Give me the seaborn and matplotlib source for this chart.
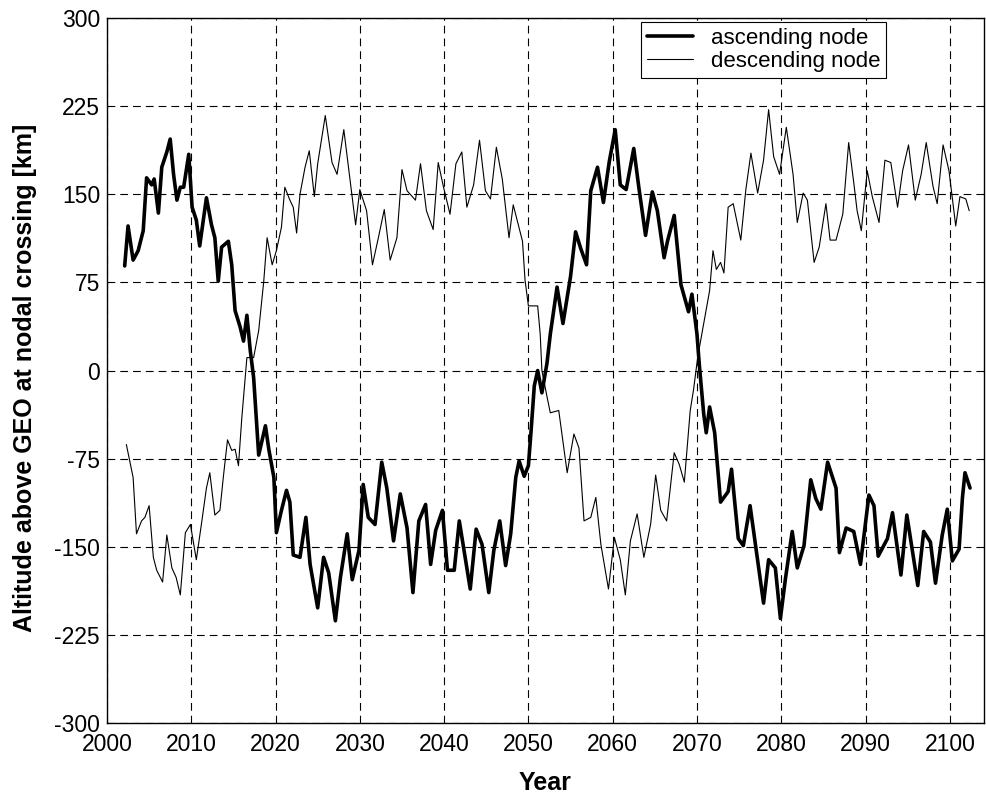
import matplotlib
matplotlib.use("Agg")
import matplotlib.pyplot as plt
import seaborn as sns
import numpy as np

# ascending node (thick line)
asc_year = [
    2002.1, 2002.5, 2003.1, 2003.7, 2004.3, 2004.7, 2005.3, 2005.6, 2006.1, 2006.5,
    2007.1, 2007.5, 2007.9, 2008.3, 2008.7, 2009.1, 2009.7, 2010.1, 2010.6, 2011.0,
    2011.8, 2012.4, 2012.8, 2013.2, 2013.6, 2014.4, 2014.8, 2015.2, 2015.8, 2016.2,
    2016.6, 2017.0, 2017.4, 2018.0, 2018.8, 2019.2, 2019.8, 2020.1, 2020.7, 2021.3,
    2021.7, 2022.1, 2022.9, 2023.6, 2024.1, 2025.0, 2025.7, 2026.3, 2027.1, 2027.7,
    2028.5, 2029.1, 2029.9, 2030.4, 2031.0, 2031.8, 2032.6, 2033.2, 2034.0, 2034.8,
    2035.6, 2036.3, 2037.0, 2037.8, 2038.4, 2039.0, 2039.8, 2040.4, 2041.2, 2041.8,
    2042.5, 2043.1, 2043.8, 2044.5, 2045.3, 2045.9, 2046.6, 2047.3, 2047.9, 2048.5,
    2048.9, 2049.5, 2050.0, 2050.3, 2050.7, 2051.1, 2051.6, 2052.2, 2052.6, 2053.4,
    2054.1, 2055.0, 2055.6, 2056.2, 2056.9, 2057.4, 2058.2, 2058.9, 2059.6, 2060.3,
    2060.9, 2061.6, 2062.5, 2063.1, 2063.9, 2064.7, 2065.3, 2066.1, 2066.5, 2067.3,
    2068.1, 2069.0, 2069.4, 2070.0, 2070.3, 2070.8, 2071.1, 2071.5, 2072.1, 2072.8,
    2073.7, 2074.1, 2074.9, 2075.5, 2076.3, 2076.9, 2077.9, 2078.5, 2079.3, 2079.9,
    2080.5, 2081.3, 2081.9, 2082.7, 2083.5, 2084.1, 2084.7, 2085.5, 2086.5, 2086.9,
    2087.7, 2088.6, 2089.4, 2090.4, 2091.0, 2091.5, 2092.6, 2093.2, 2094.2, 2094.9,
    2095.4, 2096.2, 2096.9, 2097.7, 2098.3, 2099.1, 2099.7, 2100.3, 2101.1, 2101.5,
    2101.8, 2102.4,
]
asc_alt = [
    89, 123, 94, 102, 119, 164, 158, 163, 134, 173,
    186, 197, 167, 145, 156, 156, 184, 139, 128, 106,
    147, 124, 113, 76, 105, 110, 90, 51, 37, 25,
    47, 17, -6, -72, -47, -67, -91, -138, -119, -102,
    -112, -157, -159, -125, -165, -202, -159, -172, -213, -176,
    -139, -178, -153, -97, -125, -131, -78, -100, -145, -105,
    -134, -189, -128, -114, -165, -136, -119, -170, -170, -128,
    -159, -186, -135, -148, -189, -153, -128, -166, -139, -91,
    -77, -90, -81, -53, -13, 0, -19, 6, 31, 71,
    40, 80, 118, 104, 90, 153, 173, 143, 178, 205,
    158, 154, 189, 156, 115, 152, 136, 96, 110, 132,
    73, 50, 65, 31, 3, -37, -53, -31, -53, -112,
    -103, -84, -143, -149, -115, -146, -198, -161, -168, -211,
    -177, -137, -168, -149, -93, -109, -118, -78, -100, -155,
    -134, -137, -165, -106, -115, -158, -143, -121, -174, -123,
    -146, -183, -137, -146, -181, -140, -118, -162, -152, -108,
    -87, -100,
]

# descending node (thin line)
desc_year = [
    2002.3, 2002.7, 2003.1, 2003.5, 2004.1, 2004.5, 2005.0, 2005.5, 2005.9, 2006.6,
    2007.1, 2007.7, 2008.2, 2008.7, 2009.3, 2009.9, 2010.6, 2011.2, 2011.8, 2012.2,
    2012.8, 2013.4, 2013.8, 2014.3, 2014.8, 2015.2, 2015.6, 2016.0, 2016.6, 2017.4,
    2018.0, 2018.6, 2019.0, 2019.6, 2020.1, 2020.7, 2021.1, 2021.7, 2022.1, 2022.5,
    2022.9, 2023.5, 2024.0, 2024.6, 2025.0, 2025.9, 2026.7, 2027.3, 2028.1, 2028.7,
    2029.5, 2030.0, 2030.8, 2031.5, 2032.2, 2032.9, 2033.6, 2034.4, 2035.0, 2035.6,
    2036.6, 2037.2, 2037.9, 2038.7, 2039.3, 2039.9, 2040.7, 2041.4, 2042.1, 2042.7,
    2043.5, 2044.2, 2044.9, 2045.5, 2046.2, 2046.9, 2047.7, 2048.2, 2048.8, 2049.3,
    2049.6, 2050.0, 2050.5, 2051.1, 2051.4, 2051.6, 2052.2, 2052.6, 2053.6, 2054.6,
    2055.4, 2056.0, 2056.6, 2057.4, 2058.0, 2058.6, 2059.5, 2060.2, 2060.9, 2061.5,
    2062.1, 2062.9, 2063.7, 2064.5, 2065.1, 2065.7, 2066.4, 2067.3, 2067.9, 2068.5,
    2069.2, 2069.6, 2070.1, 2070.8, 2071.5, 2071.9, 2072.3, 2072.8, 2073.2, 2073.7,
    2074.3, 2075.2, 2075.8, 2076.4, 2077.2, 2077.9, 2078.5, 2079.1, 2079.8, 2080.6,
    2081.4, 2081.9, 2082.6, 2083.1, 2083.9, 2084.5, 2085.3, 2085.8, 2086.5, 2087.3,
    2088.0, 2088.6, 2089.0, 2089.5, 2090.2, 2090.8, 2091.6, 2092.3, 2093.0, 2093.8,
    2094.4, 2095.1, 2095.9, 2096.6, 2097.2, 2098.0, 2098.5, 2099.2, 2099.9, 2100.7,
    2101.2, 2101.9, 2102.3,
]
desc_alt = [
    -63, -77, -91, -139, -128, -125, -115, -159, -170, -180,
    -140, -168, -176, -191, -138, -131, -161, -131, -100, -87,
    -123, -119, -91, -59, -68, -67, -81, -40, 11, 11,
    34, 76, 113, 90, 102, 122, 156, 145, 139, 117,
    150, 173, 187, 148, 176, 217, 177, 167, 205, 170,
    124, 154, 136, 90, 113, 137, 94, 113, 171, 153,
    145, 176, 136, 120, 177, 157, 133, 176, 186, 139,
    158, 196, 153, 146, 190, 163, 113, 141, 124, 110,
    77, 55, 55, 55, 31, 0, -22, -36, -34, -87,
    -54, -66, -128, -125, -108, -148, -186, -142, -161, -191,
    -145, -122, -159, -131, -89, -119, -128, -70, -80, -95,
    -34, -16, 12, 40, 68, 102, 86, 92, 83, 139,
    142, 111, 154, 185, 151, 179, 222, 182, 167, 207,
    167, 126, 151, 145, 92, 105, 142, 111, 111, 133,
    194, 160, 136, 119, 170, 148, 126, 179, 177, 139,
    170, 192, 145, 167, 194, 157, 142, 192, 170, 123,
    148, 146, 136,
]

x_ticks = list(range(2000, 2101, 10))
y_ticks = list(range(-300, 301, 75))

sns.set_theme(style="white")
plt.rcParams["font.family"] = ["Liberation Sans", "DejaVu Sans"]
plt.rcParams["axes.unicode_minus"] = False
plt.rcParams["text.color"] = "black"
plt.rcParams["axes.labelcolor"] = "black"

fig = plt.figure(figsize=(9.86, 7.94), dpi=100)
ax = fig.add_axes([0.1085, 0.0894, 0.889, 0.8879])

sns.lineplot(x=np.array(asc_year), y=np.array(asc_alt), ax=ax, color="black",
             linewidth=2.6, label="ascending node", estimator=None)
sns.lineplot(x=np.array(desc_year), y=np.array(desc_alt), ax=ax, color="black",
             linewidth=0.8, label="descending node", estimator=None)

ax.set_xlim(2000, 2104)
ax.set_ylim(-300, 300)
ax.set_xticks(x_ticks)
ax.set_yticks(y_ticks)
ax.tick_params(direction="in", length=4, width=0.8, colors="black", labelsize=16.5)
ax.tick_params(axis="x", pad=7)
ax.tick_params(axis="y", pad=5)

ax.grid(True, color="black", linestyle=(0, (7, 4.5)), linewidth=0.8)
for side in ax.spines.values():
    side.set_color("black")
    side.set_linewidth(1.0)

ax.set_xlabel("Year", fontsize=18, fontweight="bold", color="black")
ax.set_ylabel("Altitude above GEO at nodal crossing [km]", fontsize=18,
              fontweight="bold", color="black")
ax.xaxis.set_label_coords(0.5, -0.068)
ax.yaxis.set_label_coords(-0.08, 0.49)

leg = ax.legend(loc="upper right", bbox_to_anchor=(0.889, 0.994), fontsize=16,
                frameon=True, fancybox=False, framealpha=1, edgecolor="black",
                handlelength=2.1, borderpad=0.25, labelspacing=0.1,
                handletextpad=0.8, borderaxespad=0)
leg.get_frame().set_linewidth(0.8)
for t in leg.get_texts():
    t.set_color("black")

fig.savefig("out.png", dpi=100)
